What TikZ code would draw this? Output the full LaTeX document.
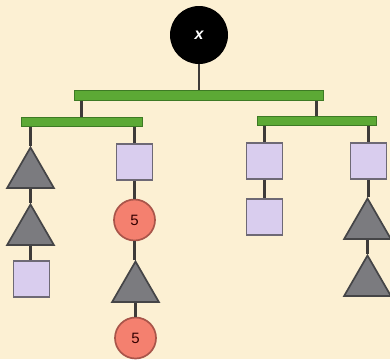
\documentclass[tikz,border=0pt]{standalone}
\usepackage{fontspec}
\setsansfont{Liberation Sans}
\usetikzlibrary{shapes.geometric}
\definecolor{bg}{HTML}{FCF0D3}
\definecolor{barfill}{HTML}{5CA935}
\definecolor{barline}{HTML}{3D7A24}
\definecolor{sqfill}{HTML}{D9CDEE}
\definecolor{sqline}{HTML}{6E6975}
\definecolor{trifill}{HTML}{7B7B7F}
\definecolor{triline}{HTML}{454547}
\definecolor{redfill}{HTML}{F4806F}
\definecolor{redline}{HTML}{A9554A}
\definecolor{wire}{HTML}{3E3B39}
\tikzset{
  bar/.style={draw=barline, fill=barfill, line width=1pt, rectangle,
    minimum height=9.5pt, inner sep=0pt},
  sqbox/.style={rectangle, draw=sqline, fill=sqfill, line width=1.7pt,
    minimum size=36pt, inner sep=0pt},
  tribox/.style={regular polygon, regular polygon sides=3, draw=triline,
    fill=trifill, line width=1.7pt, minimum size=54pt, inner sep=0pt},
  fivebox/.style={circle, draw=redline, fill=redfill, line width=1.7pt,
    minimum size=41pt, inner sep=0pt, font=\sffamily\fontsize{15}{15}\selectfont,
    text=black!80!red},
  rootbox/.style={circle, fill=black, minimum size=58pt, inner sep=0pt,
    text=white, font=\sffamily\bfseries\itshape\fontsize{16}{16}\selectfont},
  wirestyle/.style={draw=wire, line width=2.4pt}
}
\begin{document}
\begin{tikzpicture}[x=1pt, y=-1pt]
  \fill[bg] (0,0) rectangle (390,359);
  \useasboundingbox (0,0) rectangle (390,359);

  % root and the three balance bars
  \node[rootbox] (root) at (199,35) {x};
  \node[bar, minimum width=249pt] (top) at (198.5,95.5) {};
  \node[bar, minimum width=121pt] (left) at (81.5,122) {};
  \node[bar, minimum width=119pt] (right) at (316.5,121) {};

  % first column
  \node[tribox] (a1) at (30.5,174.5) {};
  \node[tribox] (a2) at (30.5,231.5) {};
  \node[sqbox]  (a3) at (31.5,279) {};

  % second column
  \node[sqbox]   (b1) at (134.5,162) {};
  \node[fivebox] (b2) at (134.5,220) {5};
  \node[tribox]  (b3) at (135.5,288.5) {};
  \node[fivebox] (b4) at (135.5,338) {5};

  % third column
  \node[sqbox] (c1) at (264.5,161) {};
  \node[sqbox] (c2) at (264.5,217) {};

  % fourth column
  \node[sqbox]  (d1) at (368.5,161) {};
  \node[tribox] (d2) at (367.5,225.5) {};
  \node[tribox] (d3) at (367.5,282.5) {};

  % hanging wires
  \begin{scope}[wirestyle]
    \draw (root) -- (root |- top.north);
    \draw (top.south -| left) -- (left.north);
    \draw (top.south -| right) -- (right.north);
    \draw (left.south -| a1) -- (a1.north);
    \draw (left.south -| b1) -- (b1.north);
    \draw (right.south -| c1) -- (c1.north);
    \draw (right.south -| d1) -- (d1.north);
    \draw (a1.south) -- (a2.north);
    \draw (a2.south) -- (a2.south |- a3.north);
    \draw (b1.south) -- (b1.south |- b2.north);
    \draw (b2.south) -- (b2.south |- b3.north);
    \draw (b3.south) -- (b3.south |- b4.north);
    \draw (c1.south) -- (c1.south |- c2.north);
    \draw (d1.south) -- (d1.south |- d2.north);
    \draw (d2.south) -- (d3.north);
  \end{scope}
\end{tikzpicture}
\end{document}
